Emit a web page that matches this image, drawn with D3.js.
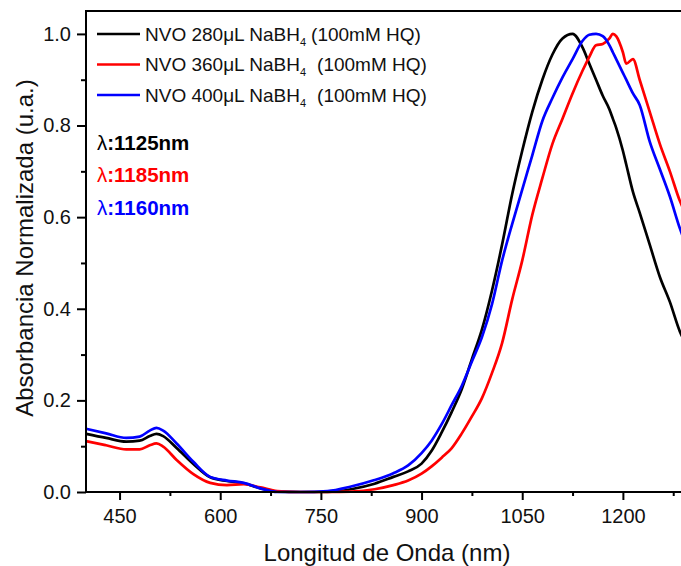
<!DOCTYPE html>
<html>
<head>
<meta charset="utf-8">
<script src="https://cdn.jsdelivr.net/npm/d3@7"></script>
<style>
  body { margin: 0; background: #fff; }
  svg { display: block; font-family: "Liberation Sans", Arial, sans-serif; }
</style>
</head>
<body>
<svg width="681" height="566"></svg>
<script>
// wavelengths (nm) shared by the three spectra
const wl = [400, 430, 460, 480, 495, 505, 515, 535, 560, 585, 610, 635, 660, 685, 720, 760, 795, 830, 858, 880,
    900, 915, 930, 945, 960, 975, 990, 1005, 1020, 1035, 1050, 1065, 1080, 1095, 1110, 1125, 1140, 1150, 1160, 1170,
    1180, 1185, 1190, 1200, 1205, 1215, 1225, 1240, 1255, 1270, 1285, 1300];

const nvo280 = [0.127, 0.118, 0.110, 0.112, 0.122, 0.127, 0.122, 0.096, 0.061, 0.032, 0.024, 0.019, 0.008, 0.001, 0.0, 0.0, 0.006, 0.018, 0.033, 0.045,
    0.062, 0.09, 0.13, 0.175, 0.225, 0.29, 0.355, 0.44, 0.54, 0.65, 0.745, 0.83, 0.9, 0.955, 0.99, 1.0, 0.97, 0.935, 0.9, 0.865,
    0.835, 0.815, 0.795, 0.745, 0.715, 0.655, 0.61, 0.54, 0.47, 0.415, 0.35, 0.31];

const nvo360 = [0.111, 0.102, 0.093, 0.093, 0.102, 0.106, 0.099, 0.07, 0.039, 0.02, 0.015, 0.017, 0.01, 0.002, 0.0, 0.0, 0.001, 0.006, 0.015, 0.025,
    0.04, 0.056, 0.075, 0.096, 0.128, 0.165, 0.205, 0.26, 0.325, 0.42, 0.505, 0.605, 0.685, 0.76, 0.815, 0.87, 0.92, 0.95, 0.975, 0.978,
    0.99, 1.0, 0.995, 0.96, 0.935, 0.945, 0.9, 0.83, 0.76, 0.7, 0.635, 0.59];

const nvo400 = [0.138, 0.128, 0.118, 0.121, 0.134, 0.140, 0.134, 0.106, 0.066, 0.033, 0.025, 0.020, 0.008, 0.0, 0.0, 0.002, 0.012, 0.026, 0.041, 0.058,
    0.085, 0.112, 0.148, 0.19, 0.232, 0.285, 0.338, 0.41, 0.505, 0.585, 0.66, 0.735, 0.81, 0.86, 0.905, 0.945, 0.985, 0.998, 1.0, 0.995,
    0.975, 0.96, 0.945, 0.915, 0.9, 0.87, 0.845, 0.765, 0.705, 0.645, 0.575, 0.52];

const seriesNames = ["NVO 280\u03BCL NaBH", "NVO 360\u03BCL NaBH", "NVO 400\u03BCL NaBH"];
const seriesColors = ["#000000", "#ff0000", "#0000ff"];
const peakLabels = ["1125nm", "1185nm", "1160nm"];

const xTicks = [450, 600, 750, 900, 1050, 1200];
const yTicks = [0, 0.2, 0.4, 0.6, 0.8, 1.0];

const svg = d3.select("svg");

const x = d3.scaleLinear().domain([400, 1300]).range([86, 690]);
const y = d3.scaleLinear().domain([0, 1.05]).range([492, 11]);

const series = [nvo280, nvo360, nvo400];

// lines
const line = d3.line()
    .x((d, i) => x(wl[i]))
    .y(d => y(d))
    .curve(d3.curveMonotoneX);

svg.selectAll(".spec")
    .data(series)
    .enter()
    .append("path")
    .attr("class", "spec")
    .attr("fill", "none")
    .attr("stroke", (d, i) => seriesColors[i])
    .attr("stroke-width", 2.7)
    .attr("stroke-linejoin", "round")
    .attr("d", line);

// axes
const xAxis = svg.append("g")
    .attr("transform", "translate(0,492)")
    .call(d3.axisBottom(x).tickValues(xTicks).tickSize(8).tickPadding(9).tickFormat(d3.format("d")));

const xMinor = svg.append("g")
    .attr("transform", "translate(0,492)")
    .call(d3.axisBottom(x).tickValues(d3.range(525, 1300, 150)).tickSize(4).tickFormat(""));

const yAxis = svg.append("g")
    .attr("transform", "translate(86,0)")
    .call(d3.axisLeft(y).tickValues(yTicks).tickSize(9).tickPadding(6).tickFormat(d3.format(".1f")));

const yMinor = svg.append("g")
    .attr("transform", "translate(86,0)")
    .call(d3.axisLeft(y).tickValues([0.1, 0.3, 0.5, 0.7, 0.9]).tickSize(5).tickFormat(""));

[xAxis, xMinor, yAxis, yMinor].forEach(g => {
    g.select(".domain").remove();
    g.selectAll("line").attr("stroke", "#000").attr("stroke-width", 2);
    g.selectAll("text").attr("font-size", 20).attr("fill", "#111").attr("font-family", "Liberation Sans, Arial, sans-serif");
});

// frame
svg.append("path")
    .attr("d", `M690,11H86V492H690`)
    .attr("fill", "none")
    .attr("stroke", "#000")
    .attr("stroke-width", 2);

// axis titles
svg.append("text")
    .attr("x", 387)
    .attr("y", 561)
    .attr("text-anchor", "middle")
    .attr("font-size", 24)
    .attr("fill", "#111")
    .text("Longitud de Onda (nm)");

svg.append("text")
    .attr("transform", "translate(33,248) rotate(-90)")
    .attr("text-anchor", "middle")
    .attr("font-size", 24)
    .attr("fill", "#111")
    .text("Absorbancia Normalizada (u.a.)");

// legend
const legend = svg.append("g");
seriesNames.forEach((name, i) => {
    const ly = 34 + i * 30.5;
    legend.append("line")
        .attr("x1", 97).attr("x2", 140)
        .attr("y1", ly).attr("y2", ly)
        .attr("stroke", seriesColors[i])
        .attr("stroke-width", 2.7);
    const t = legend.append("text")
        .attr("x", 145)
        .attr("y", ly + 6.5)
        .attr("font-size", 19)
        .attr("fill", "#111");
    t.append("tspan").text(name);
    t.append("tspan").attr("font-size", 11).attr("dy", 5).text("4");
    t.append("tspan").attr("dy", -5).attr("dx", i === 0 ? 5 : 11).text("(100mM HQ)");
});

// peak labels
peakLabels.forEach((p, i) => {
    const t = svg.append("text")
        .attr("x", 97)
        .attr("y", 149.5 + i * 32.5)
        .attr("font-size", 20.5)
        .attr("fill", seriesColors[i]);
    t.append("tspan").text("\u03BB");
    t.append("tspan").attr("font-weight", "bold").text(":" + p);
});
</script>
</body>
</html>
